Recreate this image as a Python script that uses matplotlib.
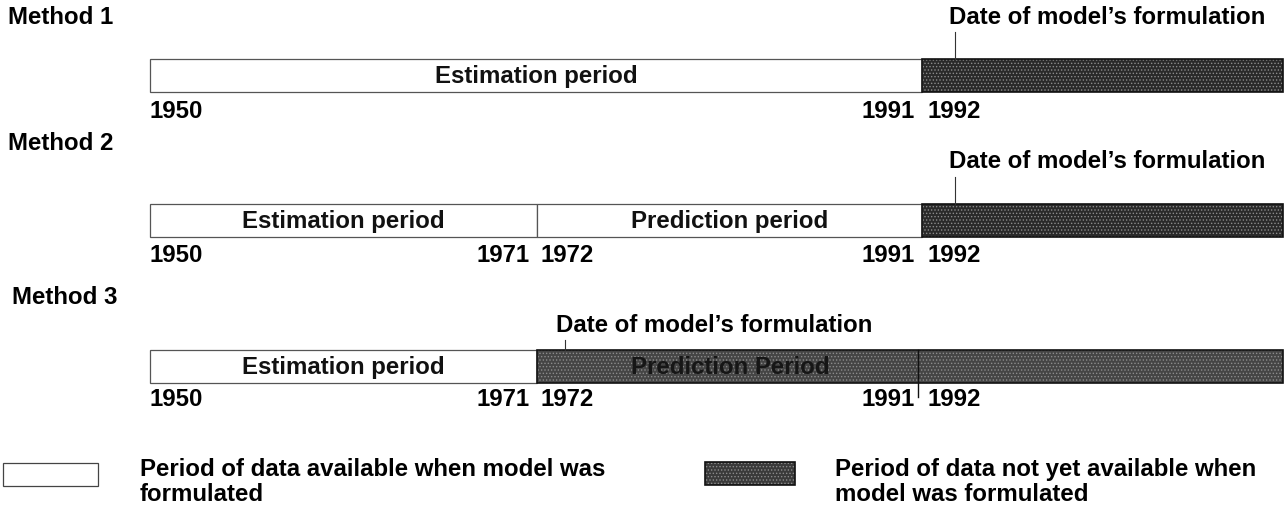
import matplotlib
matplotlib.use("Agg")
import matplotlib.pyplot as plt
from matplotlib.patches import Rectangle

plt.rcParams["font.family"] = ["Liberation Sans", "DejaVu Sans"]
plt.rcParams["font.weight"] = "bold"
plt.rcParams["hatch.linewidth"] = 0.6

# --- data -----------------------------------------------------------------
methods = ["Method 1", "Method 2", "Method 3"]
# segment boundaries along the timeline (axis units), per method
seg_starts = [[150, 922], [150, 537, 922], [150, 537]]
seg_ends = [[922, 1283], [537, 922, 1283], [537, 1283]]
seg_kinds = [["avail", "future"], ["avail", "avail", "future"], ["avail", "future"]]
seg_labels = [["Estimation period", ""],
              ["Estimation period", "Prediction period", ""],
              ["Estimation period", "Prediction Period"]]
# year labels under each bar
year_text = [["1950", "1991", "1992"],
             ["1950", "1971", "1972", "1991", "1992"],
             ["1950", "1971", "1972", "1991", "1992"]]
year_x = [[150, 915, 928],
          [150, 530, 541, 915, 928],
          [150, 530, 541, 915, 928]]
year_ha = [["left", "right", "left"],
           ["left", "right", "left", "right", "left"],
           ["left", "right", "left", "right", "left"]]
formulation_x = [955, 955, 565]
formulation_text_x = [949, 949, 556]
legend_text = ["Period of data available when model was\nformulated",
               "Period of data not yet available when\nmodel was formulated"]

# --- layout ---------------------------------------------------------------
label_y = [17, 143, 298]
label_x = [8, 8, 12]
date_y = [17, 162, 325]
bar_top = [59, 204, 350]
bar_h = 33
year_y = [112, 255, 399]
FS = 17.3

fig = plt.figure(figsize=(12.88, 5.13), dpi=100)
ax = fig.add_axes([0, 0, 1, 1])
ax.set_xlim(0, 1288)
ax.set_ylim(513, 0)
ax.axis("off")

DARK = ["#2a2a2a", "#2a2a2a", "#454545"]


def dark_rect(x, y, w, h, fc):
    ax.add_patch(Rectangle((x, y), w, h, facecolor=fc, edgecolor="#8c8c8c",
                           hatch=".....", linewidth=0, zorder=1))
    ax.add_patch(Rectangle((x, y), w, h, facecolor="none", edgecolor="#111111",
                           linewidth=1.2, zorder=3))


for i, name in enumerate(methods):
    ax.text(label_x[i], label_y[i], name, fontsize=FS, ha="left", va="center")
    top = bar_top[i]
    for s, e, k, lab in zip(seg_starts[i], seg_ends[i], seg_kinds[i], seg_labels[i]):
        if k == "avail":
            ax.add_patch(Rectangle((s, top), e - s, bar_h, facecolor="white",
                                   edgecolor="#555555", linewidth=0.9, zorder=2))
            tc = "#111111"
        else:
            dark_rect(s, top, e - s, bar_h, DARK[i])
            tc = "#161616"
        if lab:
            cx = (s + e) / 2 if k == "avail" else 730
            ax.text(cx, top + bar_h / 2 + 1, lab, fontsize=FS, ha="center",
                    va="center", color=tc, zorder=4)
    for t, x, ha in zip(year_text[i], year_x[i], year_ha[i]):
        ax.text(x, year_y[i], t, fontsize=FS, ha=ha, va="center")
    # date of formulation marker
    ax.text(formulation_text_x[i], date_y[i], "Date of model\u2019s formulation",
            fontsize=FS, ha="left", va="center")
    ax.plot([formulation_x[i]] * 2, [date_y[i] + 15, top], color="#333333",
            linewidth=0.8, zorder=4)

# 1991/1992 divider in method 3
ax.plot([918, 918], [bar_top[2], year_y[2] - 2], color="#111111", linewidth=1.0, zorder=4)

# --- legend ---------------------------------------------------------------
ax.add_patch(Rectangle((3, 463), 95, 23, facecolor="white", edgecolor="#444444",
                       linewidth=0.9))
ax.text(140, 458, legend_text[0], fontsize=FS, ha="left", va="top",
        linespacing=1.1)
dark_rect(705, 462, 90, 23, "#3a3a3a")
ax.text(835, 458, legend_text[1], fontsize=FS, ha="left", va="top",
        linespacing=1.1)

fig.savefig("out.png", dpi=100)
